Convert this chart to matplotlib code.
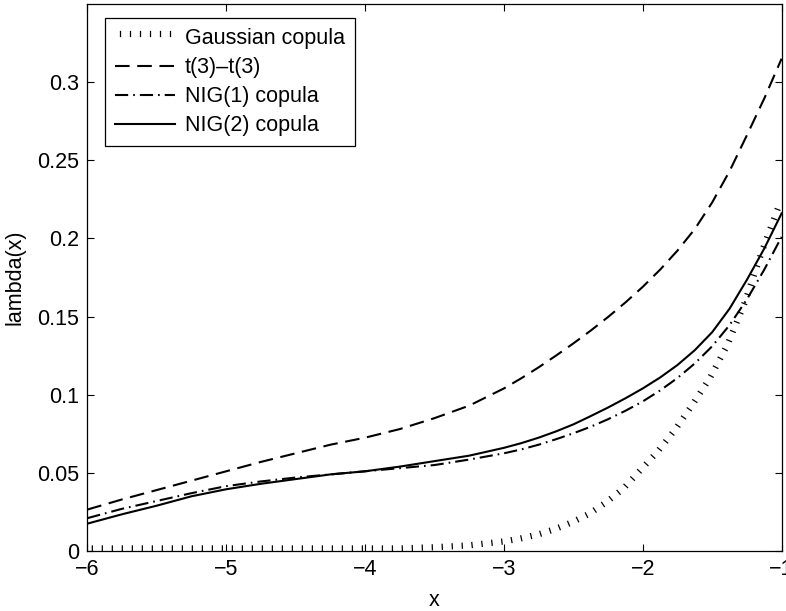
import matplotlib
matplotlib.use("Agg")
import matplotlib.pyplot as plt
import matplotlib.patheffects as pe
from matplotlib.ticker import FuncFormatter
import numpy as np

# %%
# coarse grid on the flat part, finer grid where the curves bend
x = np.concatenate([np.arange(-6, -2.99, 0.25), np.arange(-2.875, -0.99, 0.125)])

gaussian = [0, 0, 0, 0, 0, 0, 0, 0, 0, 0, 0.0008, 0.002, 0.0045,
            0.0065, 0.009, 0.0125, 0.017, 0.0225, 0.03, 0.039, 0.051,
            0.063, 0.077, 0.093, 0.11, 0.131, 0.158, 0.191, 0.221]
t3_t3 = [0.0265, 0.033, 0.039, 0.045, 0.051, 0.057, 0.0625, 0.068, 0.0725, 0.078,
         0.085, 0.093, 0.104,
         0.1105, 0.1175, 0.125, 0.1328, 0.141, 0.1497, 0.159, 0.169,
         0.180, 0.1922, 0.206, 0.223, 0.243, 0.266, 0.2895, 0.315]
nig1 = [0.021, 0.027, 0.032, 0.037, 0.0415, 0.0445, 0.047, 0.049, 0.051, 0.053,
        0.055, 0.0585, 0.0625,
        0.065, 0.068, 0.0715, 0.0753, 0.0795, 0.0843, 0.0897, 0.0957,
        0.1027, 0.1107, 0.120, 0.131, 0.1445, 0.161, 0.180, 0.201]
nig2 = [0.0175, 0.0235, 0.029, 0.035, 0.0395, 0.043, 0.046, 0.049, 0.051, 0.054,
        0.0575, 0.061, 0.066,
        0.069, 0.0725, 0.0765, 0.081, 0.0863, 0.0918, 0.0977, 0.104,
        0.111, 0.119, 0.1285, 0.140, 0.155, 0.1735, 0.1935, 0.216]

labels = ["Gaussian copula", "t(3)\u2013t(3)", "NIG(1) copula", "NIG(2) copula"]

# %%
plt.rcParams["font.family"] = ["Liberation Sans", "DejaVu Sans"]
plt.rcParams["font.size"] = 15.5
plt.rcParams["lines.scale_dashes"] = False

fig = plt.figure(figsize=(7.86, 6.11), dpi=100)
ax = fig.add_axes([0.1111, 0.0982, 0.8833, 0.8953])

lw = 1.5
ax.plot(x, gaussian, color="k", lw=0.0, label=labels[0],
        path_effects=[pe.withTickedStroke(angle=90, spacing=7.2, length=0.5,
                                          linewidth=0.9)])
ax.plot(x, t3_t3, color="k", lw=lw, dashes=(10.5, 5.5), label=labels[1])
ax.plot(x, nig1, color="k", lw=lw, dashes=(9.5, 3.6, 1.2, 3.6), label=labels[2])
ax.plot(x, nig2, color="k", lw=lw, label=labels[3])

ax.set_xlim(-6, -1)
ax.set_ylim(0, 0.35)
ax.set_xticks(np.arange(-6, -0.5, 1))
ax.set_yticks(np.arange(0, 0.31, 0.05))
ax.yaxis.set_major_formatter(FuncFormatter(lambda v, p: "%g" % round(v, 2)))
ax.xaxis.set_major_formatter(FuncFormatter(lambda v, p: ("%g" % v).replace("-", "\u2212")))
ax.tick_params(direction="in", length=5, width=0.8, top=True, right=True, pad=6)
for s in ax.spines.values():
    s.set_linewidth(0.9)

ax.set_xlabel("x", labelpad=7)
ax.set_ylabel("lambda(x)", labelpad=8)

leg = ax.legend(loc="upper left", bbox_to_anchor=(0.026, 0.974), borderaxespad=0,
                fancybox=False, framealpha=1, edgecolor="k", handlelength=2.8,
                handletextpad=0.45, labelspacing=0.38, borderpad=0.45)
leg.get_frame().set_linewidth(0.9)

fig.savefig("out.png", dpi=100)
